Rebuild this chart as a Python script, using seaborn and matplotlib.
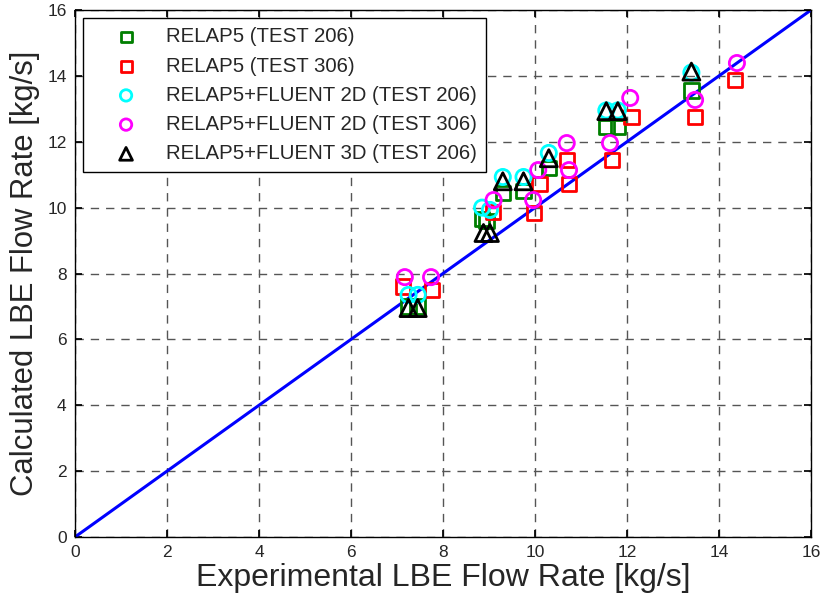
import matplotlib
matplotlib.use("Agg")
import matplotlib.pyplot as plt
import seaborn as sns
import numpy as np
import pandas as pd

sns.set_theme(style="white")
plt.rcParams['font.family'] = ['Liberation Sans', 'DejaVu Sans']

# Test 206 experimental flow rates
exp_206 = [7.25, 7.45, 8.85, 8.95, 9.3, 9.75, 10.3, 11.55, 11.8, 13.4]
relap_206 = [7.0, 7.0, 9.65, 9.6, 10.45, 10.5, 11.2, 12.45, 12.45, 13.55]
exp_206_2d = [7.25, 7.45, 8.85, 9.02, 9.3, 9.75, 10.3, 11.55, 11.8, 13.4]
fluent2d_206 = [7.35, 7.35, 10.0, 9.93, 10.93, 10.93, 11.66, 12.95, 12.95, 14.1]
exp_206_3d = [7.25, 7.45, 8.88, 9.02, 9.3, 9.75, 10.3, 11.55, 11.8, 13.4]
fluent3d_206 = [6.95, 6.95, 9.23, 9.23, 10.8, 10.8, 11.5, 12.93, 12.93, 14.13]

# Test 306
exp_306 = [7.13, 7.76, 9.09, 9.98, 10.1, 10.7, 10.74, 11.67, 12.1, 13.48, 14.35]
relap_306 = [7.6, 7.5, 9.87, 9.84, 10.72, 11.45, 10.72, 11.45, 12.75, 12.75, 13.87]
exp_306_2d = [7.17, 7.74, 9.1, 9.96, 10.07, 10.69, 10.74, 11.63, 12.07, 13.48, 14.39]
fluent2d_306 = [7.89, 7.89, 10.23, 10.23, 11.14, 11.96, 11.14, 11.96, 13.33, 13.27, 14.39]

line_x = [0, 16]
line_y = [0, 16]

ticks = [0, 2, 4, 6, 8, 10, 12, 14, 16]

fig = plt.figure(figsize=(8.23, 6.03), dpi=100)
ax = fig.add_axes([75/823, 66/603, 736/823, 527/603])

sns.lineplot(x=line_x, y=line_y, ax=ax, color='#0000ff', linewidth=2.2, zorder=1)

series = [
    (exp_206, relap_206, 's', '#007f00', 'RELAP5 (TEST 206)', 110),
    (exp_306, relap_306, 's', '#ff0000', 'RELAP5 (TEST 306)', 110),
    (exp_206_2d, fluent2d_206, 'o', '#00ffff', 'RELAP5+FLUENT 2D (TEST 206)', 120),
    (exp_306_2d, fluent2d_306, 'o', '#ff00ff', 'RELAP5+FLUENT 2D (TEST 306)', 120),
    (exp_206_3d, fluent3d_206, '^', '#000000', 'RELAP5+FLUENT 3D (TEST 206)', 150),
]
for xs, ys, m, c, lab, sz in series:
    sns.scatterplot(x=xs, y=ys, ax=ax, marker=m, s=sz, facecolors='none',
                    edgecolor=c, linewidth=2, label=lab, zorder=3)

ax.set_xlim(0, 16)
ax.set_ylim(0, 16)
ax.set_xticks(ticks)
ax.set_yticks(ticks)
ax.set_xticklabels([str(t) for t in ticks], fontsize=12.5)
ax.set_yticklabels([str(t) for t in ticks], fontsize=12.5)
ax.tick_params(direction='in', length=5, color='black', top=True, right=True,
               bottom=True, left=True, pad=6)
ax.grid(True, linestyle=(0, (6, 5)), color='#555555', linewidth=1)
for sp in ax.spines.values():
    sp.set_color('black')
    sp.set_linewidth(1)

ax.set_xlabel('Experimental LBE Flow Rate [kg/s]', fontsize=23, labelpad=2)
ax.set_ylabel('Calculated LBE Flow Rate [kg/s]', fontsize=22.3, labelpad=5)

leg = ax.legend(loc='upper left', fontsize=14.7, frameon=True, fancybox=False,
                edgecolor='black', framealpha=1, borderpad=0.45, labelspacing=0.5,
                handletextpad=0.3, borderaxespad=0.4, handlelength=3.3,
                markerscale=0.75)
leg.get_frame().set_linewidth(1)

fig.savefig('out.png', dpi=100)
